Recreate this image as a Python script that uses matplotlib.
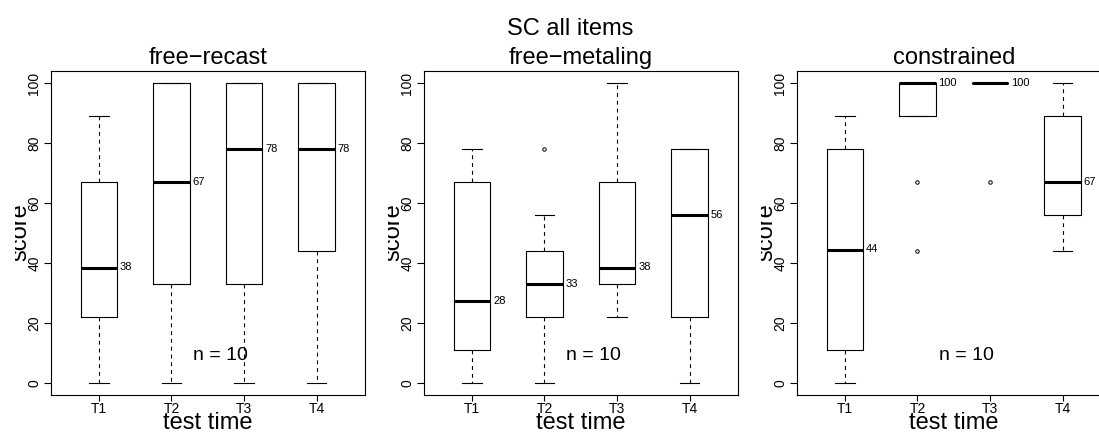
import matplotlib
matplotlib.use("Agg")
import matplotlib.pyplot as plt
from matplotlib.transforms import Bbox, TransformedBbox

plt.rcParams['font.family'] = ['Liberation Sans', 'DejaVu Sans']

groups = ["T1", "T2", "T3", "T4"]
n_label = "n = 10"
main_title = "SC all items"
titles = ["free\u2212recast", "free\u2212metaling", "constrained"]

# five-number summaries
recast_lo = [0, 0, 0, 0]
recast_q1 = [22, 33, 33, 44]
recast_med = [38.5, 67, 78, 78]
recast_q3 = [67, 100, 100, 100]
recast_hi = [89, 100, 100, 100]
recast_out = [[], [], [], []]

metal_lo = [0, 0, 22, 0]
metal_q1 = [11, 22, 33, 22]
metal_med = [27.5, 33, 38.5, 56]
metal_q3 = [67, 44, 67, 78]
metal_hi = [78, 56, 100, 78]
metal_out = [[], [78], [], []]

constr_lo = [0, 89, 100, 44]
constr_q1 = [11, 89, 100, 56]
constr_med = [44.5, 100, 100, 67]
constr_q3 = [78, 100, 100, 89]
constr_hi = [89, 100, 100, 100]
constr_out = [[], [67, 44], [67], []]

panels = [
    (recast_lo, recast_q1, recast_med, recast_q3, recast_hi, recast_out),
    (metal_lo, metal_q1, metal_med, metal_q3, metal_hi, metal_out),
    (constr_lo, constr_q1, constr_med, constr_q3, constr_hi, constr_out),
]

W, H = 1099, 432
fig = plt.figure(figsize=(W / 100, H / 100), dpi=100)

lefts = [51, 424, 797]
ax_w, ax_top, ax_bot = 313.5, 71, 395
pos = [1, 2, 3, 4]

for i, (lo, q1, med, q3, hi, out) in enumerate(panels):
    L = lefts[i]
    ax = fig.add_axes([L / W, (H - ax_bot) / H, ax_w / W, (ax_bot - ax_top) / H])
    stats = []
    for k in range(4):
        stats.append(dict(med=med[k], q1=q1[k], q3=q3[k], whislo=lo[k],
                          whishi=hi[k], fliers=out[k]))
    ax.bxp(stats, positions=pos, widths=0.5, capwidths=0.27, showfliers=True,
           boxprops=dict(color='black', lw=0.8),
           medianprops=dict(color='black', lw=2.2, solid_capstyle='butt'),
           whiskerprops=dict(color='black', lw=0.8, linestyle=(0, (3.5, 3.5))),
           capprops=dict(color='black', lw=0.8),
           flierprops=dict(marker='o', markersize=2.5, markerfacecolor='none',
                           markeredgecolor='black', markeredgewidth=0.7))
    for k in range(4):
        ax.text(pos[k] + 0.29, med[k], str(round(med[k])), fontsize=8,
                ha='left', va='center')
    ax.text(2.68, 9, n_label, fontsize=14, ha='center', va='center')

    ax.set_xlim(0.34, 4.66)
    ax.set_ylim(-4, 104)
    ax.set_xticks(pos)
    ax.set_xticklabels(groups, fontsize=10)
    ax.set_yticks([0, 20, 40, 60, 80, 100])
    ax.set_yticklabels(["0", "20", "40", "60", "80", "100"], fontsize=10,
                       rotation=90, va='center')
    ax.tick_params(axis='y', length=5, width=0.8, pad=2)
    ax.tick_params(axis='x', length=4, width=0.8, pad=1)
    for s in ax.spines.values():
        s.set_linewidth(0.8)
    ax.set_title(titles[i], fontsize=17, pad=5)

    # axis titles placed like R's mtext, ylab clipped at the panel region edge
    fig.text((L + ax_w / 2) / W, (H - 429) / H, "test time", fontsize=17,
             ha='center', va='baseline')
    yl = fig.text((L - 25) / W, (H - (ax_top + ax_bot) / 2 + 1) / H, "score",
                  fontsize=17, rotation=90, rotation_mode='anchor',
                  ha='center', va='baseline')
    clip = TransformedBbox(Bbox.from_extents((L - 36) / W, 0, (L + 20) / W, 1),
                           fig.transFigure)
    yl.set_clip_box(clip)
    yl.set_clip_on(True)

fig.text(570 / W, 1 - 35 / H, main_title, fontsize=17, ha='center', va='baseline')

fig.savefig("out.png", dpi=100)
